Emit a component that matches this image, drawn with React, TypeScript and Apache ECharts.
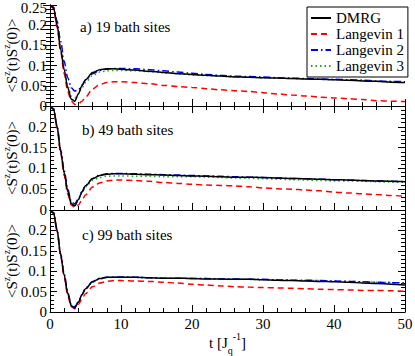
import React, { useEffect, useRef } from "react";
import * as echarts from "echarts";

const T = [0, 0.5, 1, 1.5, 2, 2.5, 3, 3.5, 4, 4.5, 5, 6, 7, 8, 9, 10, 12, 14, 16, 18, 20, 22, 24, 26, 28, 30, 32, 34, 36, 38, 40, 42, 44, 46, 48, 50];

const SERIES_NAMES = ["DMRG", "Langevin 1", "Langevin 2", "Langevin 3"];
const PANEL_LABELS = ["a) 19 bath sites", "b) 49 bath sites", "c) 99 bath sites"];
const X_TICKS = [0, 10, 20, 30, 40, 50];
const Y_TICKS = [0, 0.05, 0.1, 0.15, 0.2, 0.25];

// Panel a) 19 bath sites
const DMRG_A = [.25, .243, .2, .14, .09, .045, .017, .012, .03, .05, .065, .083, .09, .092, .092, .091, .089, .086, .083, .08, .078, .076, .074, .072, .071, .07, .069, .068, .067, .066, .065, .064, .062, .061, .059, .058];
const LANG1_A = [.25, .242, .195, .135, .08, .035, .012, .004, .005, .012, .022, .042, .053, .058, .06, .06, .058, .055, .051, .048, .046, .043, .04, .038, .036, .033, .03, .027, .025, .022, .02, .018, .016, .013, .012, .011];
const LANG2_A = [.25, .245, .21, .16, .11, .07, .045, .037, .04, .052, .064, .08, .088, .091, .093, .093, .092, .09, .087, .084, .081, .078, .076, .074, .073, .072, .07, .069, .068, .067, .066, .065, .064, .062, .061, .06];
const LANG3_A = [.25, .243, .2, .14, .092, .05, .025, .02, .03, .045, .058, .075, .084, .087, .088, .088, .087, .085, .082, .08, .077, .075, .074, .072, .071, .07, .069, .068, .067, .066, .065, .064, .063, .061, .06, .059];

// Panel b) 49 bath sites
const DMRG_B = [.25, .243, .2, .14, .09, .045, .015, .01, .025, .043, .058, .075, .083, .086, .087, .087, .086, .085, .084, .083, .082, .081, .08, .079, .079, .078, .077, .076, .075, .074, .073, .072, .071, .07, .069, .068];
const LANG1_B = [.25, .242, .197, .137, .083, .038, .012, .006, .012, .024, .036, .055, .065, .07, .072, .072, .071, .069, .066, .064, .062, .06, .059, .058, .056, .053, .051, .05, .048, .046, .043, .041, .039, .037, .035, .033];
const LANG2_B = [.25, .244, .203, .145, .095, .05, .02, .015, .027, .044, .059, .076, .084, .087, .088, .088, .087, .086, .085, .084, .083, .082, .081, .08, .079, .078, .077, .076, .075, .074, .073, .072, .071, .07, .069, .068];
const LANG3_B = [.25, .243, .2, .14, .09, .046, .017, .012, .025, .041, .055, .071, .078, .081, .082, .082, .081, .081, .08, .08, .08, .079, .078, .077, .076, .075, .074, .073, .072, .071, .07, .07, .069, .068, .067, .067];

// Panel c) 99 bath sites
const DMRG_C = [.25, .243, .2, .14, .09, .045, .015, .01, .024, .042, .057, .074, .082, .085, .085, .085, .085, .084, .083, .083, .082, .081, .081, .08, .08, .079, .078, .077, .076, .075, .074, .073, .071, .07, .068, .066];
const LANG1_C = [.25, .242, .197, .137, .085, .04, .013, .008, .018, .032, .045, .062, .071, .075, .077, .077, .076, .075, .073, .071, .068, .066, .064, .062, .061, .06, .059, .058, .057, .056, .055, .054, .053, .053, .052, .051];
const LANG2_C = [.25, .244, .202, .143, .093, .048, .018, .013, .025, .043, .058, .075, .083, .085, .086, .086, .085, .084, .083, .083, .082, .082, .081, .081, .08, .08, .079, .078, .078, .077, .076, .075, .074, .073, .072, .071];
const LANG3_C = [.25, .243, .2, .14, .091, .046, .016, .012, .024, .042, .056, .073, .081, .084, .085, .085, .085, .084, .083, .083, .082, .082, .081, .081, .08, .079, .079, .078, .077, .077, .076, .075, .074, .073, .072, .071];

const PANELS = [
  [DMRG_A, LANG1_A, LANG2_A, LANG3_A],
  [DMRG_B, LANG1_B, LANG2_B, LANG3_B],
  [DMRG_C, LANG1_C, LANG2_C, LANG3_C],
];

const FONT = "Liberation Serif";
const COLORS = ["#000000", "#ff0000", "#0000ff", "#1fa81f"];
const DASHES: any[] = ["solid", [6, 4], [7, 3, 1.5, 3], [1.5, 3]];

const GRID_TOPS = [5, 106, 210];
const GRID_HEIGHTS = [101, 104, 102];

export default function App() {
  const ref = useRef<HTMLDivElement>(null);
  useEffect(() => {
    document.body.style.margin = "0";
    if (!ref.current) return;
    const chart = echarts.init(ref.current, null, { renderer: "svg" });
    const axisLine = { show: true, lineStyle: { color: "#000", width: 1 } };
    const tick = { show: true, inside: true, length: 7, lineStyle: { color: "#000" } };
    const minor = { show: true, splitNumber: 5, length: 4, lineStyle: { color: "#000" } };
    const labelStyle = { fontFamily: FONT, fontSize: 15, color: "#000" };

    const grids = GRID_TOPS.map((t, i) => ({
      left: 50, right: 10, top: t, height: GRID_HEIGHTS[i], containLabel: false, outerBoundsMode: "none",
    }));

    const xAxes: any[] = [];
    const xIdx: number[] = [];
    GRID_TOPS.forEach((_, i) => {
      xIdx.push(xAxes.length);
      xAxes.push({
        type: "value", gridIndex: i, position: "bottom", min: X_TICKS[0], max: X_TICKS[X_TICKS.length - 1], interval: 10,
        axisLine, axisTick: tick, minorTick: minor, splitLine: { show: false },
        axisLabel: i === 2 ? { show: true, margin: 4, ...labelStyle } : { show: false },
        ...(i === 2 ? {
          name: "{b|t [J}{sub|q}{sup|-1}{b|]}", nameLocation: "middle", nameGap: 19, nameMoveOverlap: false,
          nameTextStyle: {
            ...labelStyle,
            rich: {
              b: { fontFamily: FONT, fontSize: 15, color: "#000", lineHeight: 24, verticalAlign: "middle" },
              sub: { fontFamily: FONT, fontSize: 10, color: "#000", lineHeight: 12, verticalAlign: "bottom" },
              sup: { fontFamily: FONT, fontSize: 10, color: "#000", lineHeight: 12, verticalAlign: "top" },
            },
          },
        } : {}),
      });
      if (i === 0) {
        xAxes.push({
          type: "value", gridIndex: i, position: "top", min: 0, max: 50, interval: 10,
          axisLine, axisTick: tick, minorTick: minor, splitLine: { show: false }, axisLabel: { show: false },
        });
      }
    });

    const yAxes: any[] = [];
    const yIdx: number[] = [];
    GRID_TOPS.forEach((_, i) => {
      yIdx.push(yAxes.length);
      yAxes.push({
        type: "value", gridIndex: i, position: "left", min: Y_TICKS[0], max: Y_TICKS[Y_TICKS.length - 1], interval: 0.05,
        axisLine, axisTick: tick, minorTick: minor, splitLine: { show: false },
        axisLabel: {
          show: true, margin: 3, ...labelStyle,
          formatter: (v: number) => {
            const isTop = Math.abs(v - 0.25) < 1e-9;
            if (isTop && i > 0) return "";
            const s = String(Math.round(v * 100) / 100);
            return isTop ? `{t|${s}}` : s;
          },
          rich: { t: { fontFamily: FONT, fontSize: 15, color: "#000", padding: [6, 0, 0, 0] } },
        },
        name: "{b|<S}{z|z}{b|(t)S}{z|z}{b|(0)>}", nameLocation: "middle", nameGap: 27, nameRotate: 90,
        nameMoveOverlap: false,
        nameTextStyle: {
          ...labelStyle,
          rich: {
            b: { fontFamily: FONT, fontSize: 15, color: "#000", lineHeight: 22, verticalAlign: "middle" },
            z: { fontFamily: FONT, fontSize: 10, color: "#000", lineHeight: 12, verticalAlign: "top" },
          },
        },
      });
      yAxes.push({
        type: "value", gridIndex: i, position: "right", min: 0, max: 0.25, interval: 0.05,
        axisLine, axisTick: tick, minorTick: minor, splitLine: { show: false }, axisLabel: { show: false },
      });
    });

    const series: any[] = [];
    PANELS.forEach((panel, p) => {
      panel.forEach((vals, s) => {
        series.push({
          type: "line", name: SERIES_NAMES[s], xAxisIndex: xIdx[p], yAxisIndex: yIdx[p],
          data: T.map((t, k) => [t, vals[k]]),
          symbol: "none", smooth: 0.3, smoothMonotone: "x",
          lineStyle: { color: COLORS[s], width: 1.5, type: DASHES[s] },
          itemStyle: { color: COLORS[s], opacity: 0 },
          z: 10 - s,
        });
      });
    });

    chart.setOption({
      animation: false,
      grid: grids,
      xAxis: xAxes,
      yAxis: yAxes,
      series,
      legend: {
        data: SERIES_NAMES, orient: "vertical", left: 307, top: 7,
        itemWidth: 20, itemHeight: 10, itemGap: 0, padding: [3, 4, 3, 3],
        borderColor: "#000", borderWidth: 1, backgroundColor: "#fff",
        itemStyle: { opacity: 0, borderWidth: 0 },
        textStyle: { fontFamily: FONT, fontSize: 15, color: "#000", lineHeight: 16 },
      },
      graphic: PANEL_LABELS.map((txt, i) => ({
        type: "text", x: [80, 82, 82][i], y: [27, 130, 235][i], z: 50,
        style: { text: txt, font: `15px ${FONT}`, fill: "#000", verticalAlign: "middle" },
      })),
    });
    return () => chart.dispose();
  }, []);
  return <div ref={ref} style={{ width: 415, height: 356 }} />;
}
